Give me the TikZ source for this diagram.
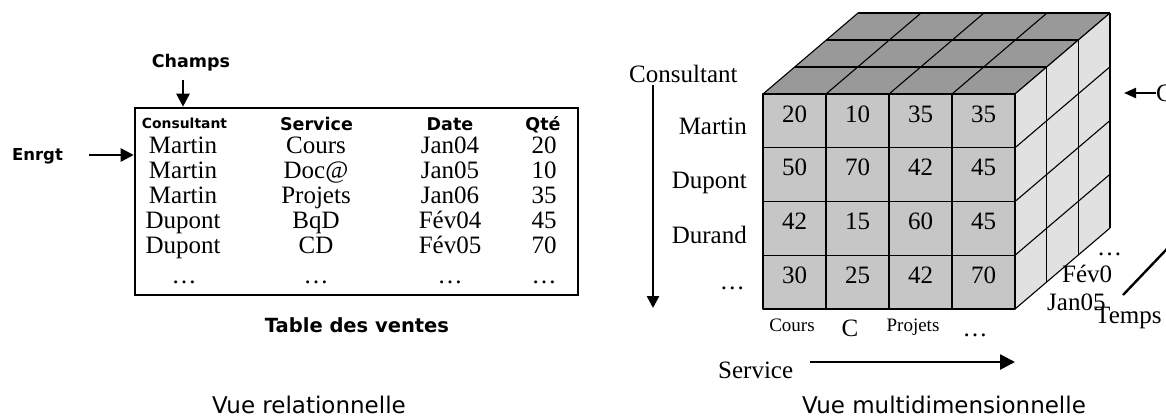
\documentclass[tikz,border=0pt]{standalone}
\usepackage{fontspec}
\setmainfont{Liberation Serif}
\newfontfamily\labelsans{DejaVu Sans}
\usetikzlibrary{arrows.meta}
\definecolor{topgray}{HTML}{999999}
\definecolor{frontgray}{HTML}{C6C6C6}
\definecolor{sidegray}{HTML}{E1E1E1}
\tikzset{
  serif/.style={font=\fontsize{25}{25}\selectfont, inner sep=0pt},
  serifsmall/.style={font=\fontsize{19}{19}\selectfont, inner sep=0pt},
  hdr/.style={font=\labelsans\bfseries\fontsize{17.5}{17.5}\selectfont, inner sep=0pt},
  caption/.style={font=\labelsans\fontsize{23}{23}\selectfont, inner sep=0pt},
  arr/.style={line width=2.6pt, -{Triangle[length=13pt,width=13pt]}},
  arrbig/.style={line width=2.6pt, -{Triangle[length=15pt,width=15pt]}},
  cubeline/.style={line width=1.1pt, line join=round},
}
\begin{document}
\begin{tikzpicture}[x=1pt,y=-1pt]
\useasboundingbox (0,0) rectangle (1166,418);

% ---------------- relational view ----------------
\node[draw, line width=2.6pt, minimum width=443pt, minimum height=187pt, inner sep=0pt] (tbl) at (356.5,201.5) {};

\node[hdr, anchor=base] (champs) at (191,67) {Champs};
\coordinate (champsA) at (183,80);
\draw[arr] (champsA) -- (champsA |- tbl.north);

\node[hdr, anchor=base, font=\labelsans\bfseries\fontsize{16.5}{16.5}\selectfont] (enrgt) at (37.5,160) {Enrgt};
\coordinate (enrgtA) at (89,155);
\draw[arr] (enrgtA) -- (enrgtA -| tbl.west);

\node[hdr, anchor=base, font=\labelsans\bfseries\fontsize{13.9}{13.9}\selectfont] (h1) at (184.5,128) {Consultant};
\node[hdr, anchor=base] (h2) at (316.5,130) {Service};
\node[hdr, anchor=base] (h3) at (450,130) {Date};
\node[hdr, anchor=base] (h4) at (543,130) {Qté};

\foreach \a/\b/\c/\d [count=\i from 0] in
  {Martin/Cours/Jan04/20, Martin/Doc@/Jan05/10, Martin/Projets/Jan06/35,
   Dupont/BqD/Fév04/45, Dupont/CD/Fév05/70}{
  \node[serif, anchor=base] (ra\i) at (183,153+25.2*\i) {\a};
  \node[serif, anchor=base] (rb\i) at (316,153+25.2*\i) {\b};
  \node[serif, anchor=base] (rc\i) at (450,153+25.2*\i) {\c};
  \node[serif, anchor=base] (rd\i) at (544,153+25.2*\i) {\d};
}
\node[serif, anchor=base] (da) at (184,283) {…};
\node[serif, anchor=base] (db) at (316,283) {…};
\node[serif, anchor=base] (dc) at (450,283) {…};
\node[serif, anchor=base] (dd) at (544,283) {…};

\node[hdr, anchor=base, font=\labelsans\bfseries\fontsize{19.5}{19.5}\selectfont] (tdv) at (357,332) {Table des ventes};

\node[caption, anchor=base] (cap1) at (309,413) {Vue relationnelle};

% ---------------- multidimensional view ----------------
% top face
\fill[topgray] (763,94) -- (1015,94) -- (1110,13) -- (858,13) -- cycle;
\foreach \j in {0,1,2,3}
  \draw[cubeline] (763+31.667*\j,94-27*\j) -- ++(252,0);
\foreach \c in {0,...,4}
  \draw[cubeline] (763+63*\c,94) -- ++(95,-81);
% right face
\fill[sidegray] (1015,94) -- (1110,13) -- (1110,228) -- (1015,309) -- cycle;
\foreach \j in {0,1,2,3}
  \draw[cubeline] (1015+31.667*\j,94-27*\j) -- ++(0,215);
\foreach \r in {0,...,4}
  \draw[cubeline] (1015,94+53.75*\r) -- ++(95,-81);
% front face
\foreach \vals [count=\r from 0] in {{20,10,35,35},{50,70,42,45},{42,15,60,45},{30,25,42,70}}{
  \foreach \v [count=\c from 0] in \vals {
    \draw[cubeline, fill=frontgray] (763+63*\c,94+53.75*\r) rectangle ++(63,53.75);
    \node[serif, anchor=base] (cell\r\c) at (794.5+63*\c,122+53.75*\r) {\v};
  }
}

\node[serif, anchor=base west] (consl) at (629,82) {Consultant};
\coordinate (consA) at (653,85);
\coordinate (consB) at (653,308);
\draw[arr, -{Triangle[length=12pt,width=12pt]}] (consA) -- (consB);
\node[serif, anchor=base east] (m1) at (747,134) {Martin};
\node[serif, anchor=base east] (m2) at (747,188) {Dupont};
\node[serif, anchor=base east] (m3) at (747,243) {Durand};
\node[serif, anchor=base east] (m4) at (745,289) {…};

\node[serifsmall, anchor=base] (s1) at (792,331) {Cours};
\node[serif, anchor=base] (s2) at (850,336) {C};
\node[serifsmall, anchor=base] (s3) at (913,331) {Projets};
\node[serif, anchor=base] (s4) at (975,336) {…};

\node[serif, anchor=base west] (servl) at (718,378) {Service};
\coordinate (servA) at (810,362);
\coordinate (servB) at (1015,362);
\draw[arrbig] (servA) -- (servB);

\node[serif, anchor=base west] (t1) at (1097,255) {…};
\node[serif, anchor=base west] (t2) at (1062,282) {Fév0};
\node[serif, anchor=base west] (t3) at (1047,310) {Jan05};
\node[serif, anchor=base west] (templ) at (1095,323) {Temps};
\coordinate (tempA) at (1123,295);
\coordinate (tempB) at (1185,230);
\draw[line width=2.4pt] (tempA) -- (tempB);

\node[serif, anchor=base west] (cl) at (1156,101) {C};
\coordinate (clA) at (1156,93);
\coordinate (clB) at (1124,93);
\draw[arr, line width=2.2pt, -{Triangle[length=12pt,width=10pt]}] (clA) -- (clB);

\node[caption, anchor=base] (cap2) at (944,413) {Vue multidimensionnelle};
\end{tikzpicture}
\end{document}
